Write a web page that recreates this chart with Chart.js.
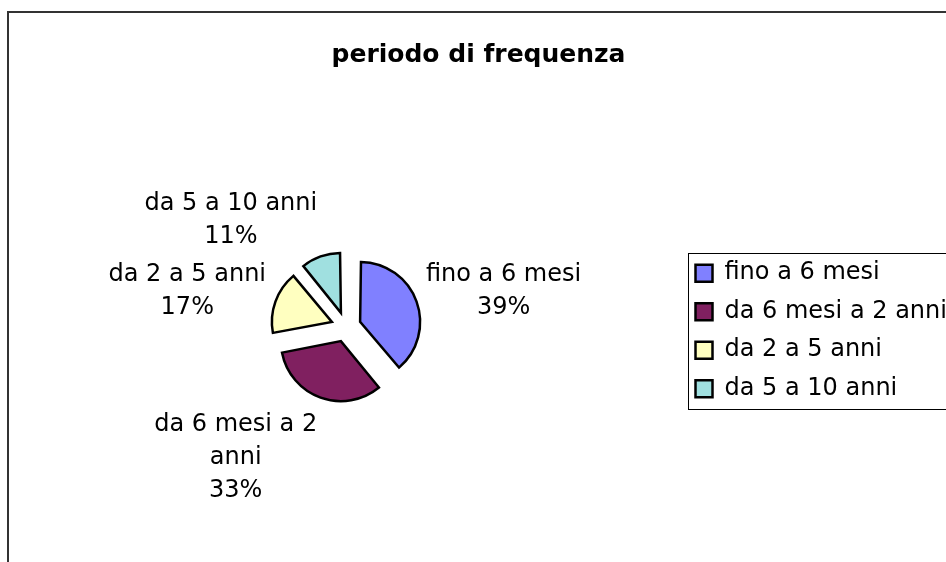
<!DOCTYPE html>
<html>
<head>
<meta charset="utf-8">
<script src="https://cdn.jsdelivr.net/npm/chart.js@4.4.1/dist/chart.umd.min.js"></script>
<style>
  html, body { margin: 0; padding: 0; background: #fff; }
  #wrap { position: relative; width: 946px; height: 562px; }
</style>
</head>
<body>
<div id="wrap"><canvas id="pieChart" width="946" height="562"></canvas></div>
<script>
const chartTitle = 'periodo di frequenza';
const categories = ['fino a 6 mesi', 'da 6 mesi a 2 anni', 'da 2 a 5 anni', 'da 5 a 10 anni'];
const shares = [39, 33, 17, 11];
const sliceColors = ['#8080FF', '#802060', '#FFFFC0', '#A0E0E0'];

const FONT = 'DejaVu Sans';
const PIE_R = 60;
const EXPLODE = 60;   // chart.js pushes a slice out by offset / 4
const LINE_H = 33;

// chart.js also grows exploded slices by offset*(1-sin(span)), put them back on one radius
const evenRadius = {
  id: 'evenRadius',
  afterDatasetsUpdate(chart) {
    chart.getDatasetMeta(0).data.forEach(arc => {
      const span = arc.endAngle - arc.startAngle;
      const fix = 1 - Math.sin(Math.min(Math.PI, span));
      arc.outerRadius = PIE_R - (EXPLODE / 4) * fix;
    });
  }
};

function wrapText(ctx, text, maxW) {
  const words = text.split(' ');
  const lines = [];
  let cur = '';
  words.forEach(w => {
    const test = cur ? cur + ' ' + w : w;
    if (cur && ctx.measureText(test).width > maxW) {
      lines.push(cur);
      cur = w;
    } else {
      cur = test;
    }
  });
  if (cur) lines.push(cur);
  return lines;
}

// outside labels: category + percent, Excel style
const sliceLabels = {
  id: 'sliceLabels',
  afterDatasetsDraw(chart) {
    const ctx = chart.ctx;
    const meta = chart.getDatasetMeta(0);
    const data = chart.data.datasets[0].data;
    const total = data.reduce((a, b) => a + b, 0);
    ctx.save();
    ctx.font = '24px "' + FONT + '"';
    ctx.fillStyle = '#000';
    ctx.textAlign = 'center';
    ctx.textBaseline = 'middle';
    meta.data.forEach((arc, i) => {
      const lines = wrapText(ctx, chart.data.labels[i], 200);
      lines.push(Math.round(data[i] / total * 100) + '%');
      const w = Math.max(...lines.map(l => ctx.measureText(l).width));
      const h = lines.length * LINE_H;
      const mid = (arc.startAngle + arc.endAngle) / 2;
      const dx = Math.cos(mid), dy = Math.sin(mid);
      const dist = PIE_R + EXPLODE / 4 + 10;
      const cx = arc.x + dx * dist + Math.sign(dx) * w / 2;
      const cy = arc.y + dy * dist + dy * h / 2 + 4;
      lines.forEach((l, k) => ctx.fillText(l, cx, cy - h / 2 + LINE_H * (k + 0.5)));
    });
    ctx.restore();
  }
};

// outer chart frame + box round the legend
const frames = {
  id: 'frames',
  afterDraw(chart) {
    const ctx = chart.ctx;
    ctx.save();
    ctx.strokeStyle = '#333';
    ctx.lineWidth = 2;
    ctx.strokeRect(8, 12, 1200, 1200);
    const boxes = chart.legend.legendHitBoxes;
    const first = boxes[0], last = boxes[boxes.length - 1];
    const top = Math.round(first.top - 8) + 0.5;
    const bottom = Math.round(last.top + last.height + 8) + 0.5;
    const left = Math.round(first.left - 8) + 0.5;
    ctx.strokeStyle = '#000';
    ctx.lineWidth = 1;
    ctx.strokeRect(left, top, 500, bottom - top);
    ctx.restore();
  }
};

new Chart(document.getElementById('pieChart'), {
  type: 'pie',
  data: {
    labels: categories,
    datasets: [{
      data: shares,
      backgroundColor: sliceColors,
      borderColor: '#000',
      borderWidth: 2.5,
      borderJoinStyle: 'miter',
      offset: EXPLODE
    }]
  },
  options: {
    responsive: false,
    animation: false,
    radius: PIE_R,
    layout: { padding: { left: 11, right: 0, top: 0, bottom: 0 } },
    plugins: {
      title: {
        display: true,
        text: chartTitle,
        color: '#000',
        font: { family: FONT, size: 25, weight: 'bold' },
        padding: { top: 40, bottom: 22 }
      },
      legend: {
        position: 'right',
        fullSize: false,
        maxWidth: 265,
        // empty legend title only nudges the entries a few px down
        title: { display: true, text: ' ', font: { size: 5 }, padding: 1 },
        labels: {
          color: '#000',
          font: { family: FONT, size: 24 },
          boxWidth: 17,
          boxHeight: 17,
          padding: 14.5
        }
      },
      tooltip: { enabled: false }
    }
  },
  plugins: [evenRadius, sliceLabels, frames]
});
</script>
</body>
</html>
